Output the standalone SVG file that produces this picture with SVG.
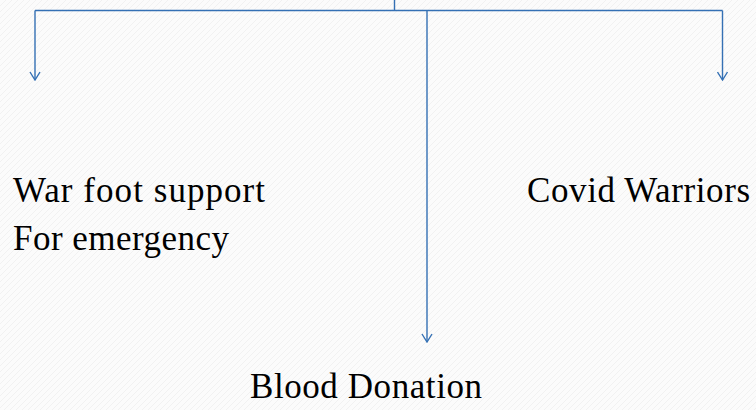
<svg xmlns="http://www.w3.org/2000/svg" width="756" height="410" viewBox="0 0 756 410">
<style>
.c{fill:none;stroke:#3470b4;stroke-width:1.4}
.t{font-family:"Liberation Serif","Times New Roman",serif;font-size:35px;fill:#000}
</style>
<defs>
<pattern id="bg" width="6" height="6" patternUnits="userSpaceOnUse">
<rect width="6" height="6" fill="#fbfbfb"/>
<path d="M0 6L6 0" stroke="#f1f1f1" stroke-width="1"/>
</pattern>
<marker id="a" markerWidth="12" markerHeight="10" refX="6" refY="9" orient="0" markerUnits="userSpaceOnUse">
<path d="M1 1L6 9L11 1" fill="none" stroke="#3470b4" stroke-width="1.4"/>
</marker>
</defs>
<rect width="756" height="410" fill="url(#bg)"/>
<g id="connectors">
<path class="c" d="M394.5 0V10.5"/>
<path class="c" d="M35 10.5H722.5"/>
<path class="c" d="M35 10.5V80" marker-end="url(#a)"/>
<path class="c" d="M722.5 10.5V80" marker-end="url(#a)"/>
<path class="c" d="M427 10.5V342" marker-end="url(#a)"/>
</g>
<g id="war-foot"><text class="t" x="13" y="202" textLength="252" lengthAdjust="spacing">War foot support</text>
<text class="t" x="13" y="250" textLength="216" lengthAdjust="spacing">For emergency</text></g>
<g id="covid"><text class="t" x="527" y="202" textLength="223" lengthAdjust="spacing">Covid Warriors</text></g>
<g id="blood"><text class="t" x="250" y="398" textLength="232" lengthAdjust="spacing">Blood Donation</text></g>
</svg>
